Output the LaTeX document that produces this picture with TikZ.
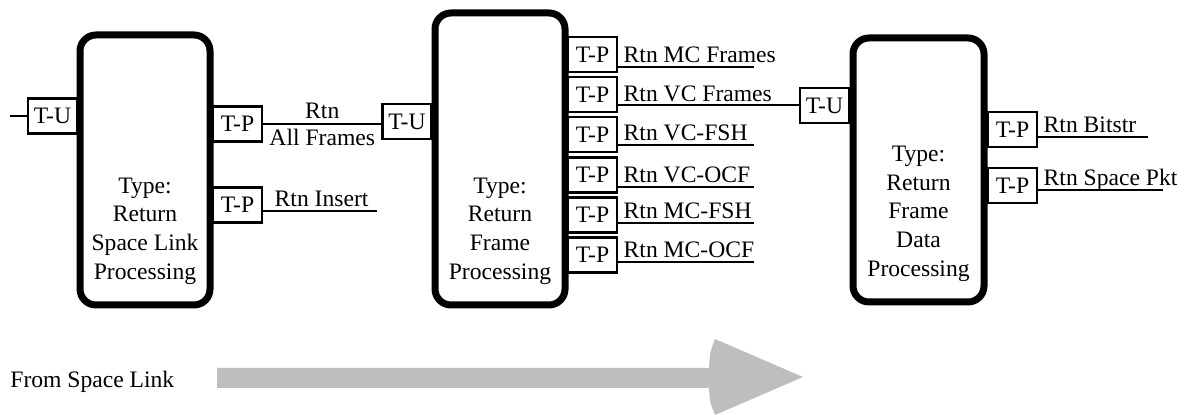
\documentclass[tikz,border=0pt]{standalone}
\usepackage{fontspec}
\setmainfont{Liberation Serif}
\usetikzlibrary{positioning}
\definecolor{flowgray}{RGB}{190,190,190}

\begin{document}
\begin{tikzpicture}[x=0.5pt,y=-0.5pt,
    every node/.style={font=\fontsize{11.8}{14.3}\selectfont},
    procbox/.style={draw,line width=3.5pt,rounded corners=8pt,minimum width=65pt},
    proctext/.style={align=center,inner sep=0pt},
    tbox/.style={draw,line width=1.3pt,minimum width=24.5pt,minimum height=17.5pt,inner sep=0pt},
    wire/.style={line width=1pt},
    lbl/.style={anchor=base west,inner sep=0pt,xshift=2.5pt,yshift=2pt}]
    \useasboundingbox (0,0) rectangle (1188,415);

    % processing blocks
    \node[procbox,minimum height=135pt] (slp) at (145,170) {};
    \node[procbox,minimum height=146pt] (rfp) at (500,159) {};
    \node[procbox,minimum width=65.5pt,minimum height=132pt] (rfdp) at (918.5,170) {};

    \node[proctext,above=12pt of slp.south] (slptxt) {Type:\\Return\\Space Link\\Processing};
    \node[proctext,above=12pt of rfp.south] (rfptxt) {Type:\\Return\\Frame\\Processing};
    \node[proctext,above=12pt of rfdp.south] (rfdptxt) {Type:\\Return\\Frame\\Data\\Processing};

    % ports
    \node[tbox] (tu1) at (52.5,116) {T-U};
    \node[tbox] (tp1a) at (237.5,124) {T-P};
    \node[tbox] (tp1b) at (237.5,205) {T-P};
    \node[tbox] (tu2) at (407,121.5) {T-U};
    \foreach \i/\row in {0/a,1/b,2/c,3/d,4/e,5/f}
        \node[tbox] (tp2\row) at (592.5,{54.5+40.1*\i}) {T-P};
    \node[tbox] (tu3) at (824.5,105.5) {T-U};
    \node[tbox] (tp3a) at (1012.5,129.5) {T-P};
    \node[tbox] (tp3b) at (1012.5,185.5) {T-P};

    % links between blocks
    \coordinate (in) at (10,116);
    \draw[wire] (in) -- (tu1.west);
    \draw[wire] (tp1a.east) -- (tp1a.east -| tu2.west)
        node[midway,above,inner sep=2pt] (allup) {Rtn}
        node[midway,below,inner sep=2pt] (alldn) {All Frames};
    \draw[wire] (tu3.west -| tp2b.east) -- (tu3.west);
    \node[lbl] (l2b) at (tu3.west -| tp2b.east) {Rtn VC Frames};

    % outputs
    \coordinate (o1b) at (377,211);
    \draw[wire] (o1b -| tp1b.east) -- (o1b);
    \node[lbl,xshift=3pt] (l1b) at (o1b -| tp1b.east) {Rtn Insert};

    \foreach \row/\txt/\ly in {a/Rtn MC Frames/67,c/Rtn VC-FSH/145,d/Rtn VC-OCF/187,e/Rtn MC-FSH/223,f/Rtn MC-OCF/262} {
        \coordinate (o2\row) at (754,\ly);
        \draw[wire] (o2\row -| tp2\row.east) -- (o2\row);
        \node[lbl] (l2\row) at (o2\row -| tp2\row.east) {\txt};
    }

    \coordinate (o3a) at (1148,137);
    \coordinate (o3b) at (1163,190);
    \draw[wire] (o3a -| tp3a.east) -- (o3a);
    \draw[wire] (o3b -| tp3b.east) -- (o3b);
    \node[lbl] (l3a) at (o3a -| tp3a.east) {Rtn Bitstr};
    \node[lbl] (l3b) at (o3b -| tp3b.east) {Rtn Space Pkt};

    % direction of flow
    \node[anchor=west,inner sep=0pt] (src) at (10,382) {From Space Link};
    \fill[flowgray] (217,368) -- (709,368) .. controls (710,352) .. (715,339)
        -- (803,377) -- (715,415) .. controls (710,403) .. (709,388)
        -- (217,388) -- cycle;
\end{tikzpicture}
\end{document}
